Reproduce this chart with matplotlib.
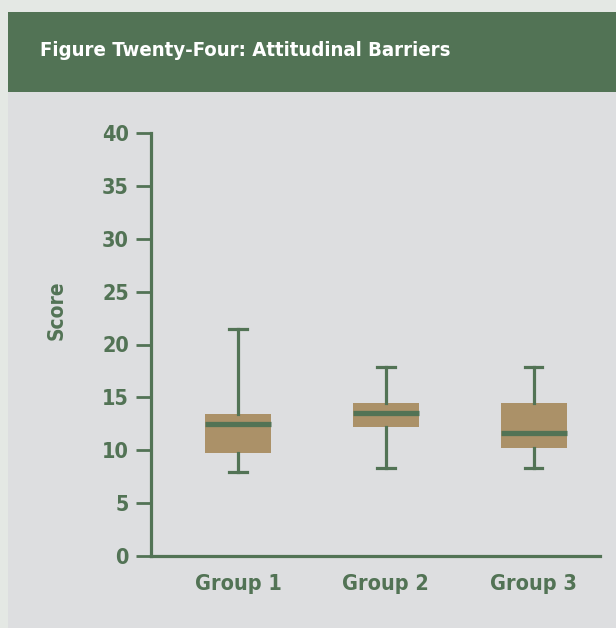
import matplotlib
matplotlib.use('Agg')
import matplotlib.pyplot as plt
from matplotlib.patches import Rectangle

# 数据
groups = ['Group 1', 'Group 2', 'Group 3']
whislo = [7.95, 8.35, 8.35]
q1 = [9.7, 12.2, 10.25]
med = [12.45, 13.5, 11.6]
q3 = [13.4, 14.45, 14.45]
whishi = [21.5, 17.85, 17.85]
yticks = [0, 5, 10, 15, 20, 25, 30, 35, 40]

green = '#527355'
tan = '#ab9168'
panel = '#dddee0'
outer = '#e4e8e4'

plt.rcParams['font.family'] = ['DejaVu Sans']
plt.rcParams['font.stretch'] = 'condensed'
plt.rcParams['font.weight'] = 'bold'

fig = plt.figure(figsize=(6.16, 6.28), dpi=100)
fig.patch.set_facecolor(outer)
# 背景面板和标题栏
fig.patches.append(Rectangle((8 / 616, 0), 1, 1 - 12 / 628, transform=fig.transFigure,
                             facecolor=panel, edgecolor='none', zorder=-2))
fig.patches.append(Rectangle((8 / 616, 1 - 92 / 628), 1, 80 / 628, transform=fig.transFigure,
                             facecolor=green, edgecolor='none', zorder=-1))
fig.text(40 / 616, 1 - 50 / 628, 'Figure Twenty-Four: Attitudinal Barriers',
         color='white', fontsize=14.6, fontweight='bold', va='center', ha='left')

ax = fig.add_axes([151 / 616, 72 / 628, 449 / 616, 423 / 628])
ax.set_zorder(2)
ax.set_facecolor('none')

stats = []
for i in range(len(groups)):
    stats.append({'whislo': whislo[i], 'q1': q1[i], 'med': med[i], 'q3': q3[i],
                  'whishi': whishi[i], 'fliers': [], 'label': groups[i]})

ax.bxp(stats, positions=[1, 2, 3], widths=0.447, patch_artist=True, showfliers=False,
       boxprops=dict(facecolor=tan, edgecolor='none'),
       medianprops=dict(color=green, linewidth=3.8, solid_capstyle='butt'),
       whiskerprops=dict(color=green, linewidth=2.3),
       capprops=dict(color=green, linewidth=2.3),
       capwidths=0.12)

ax.set_xlim(0.41, 3.45)
ax.set_ylim(0, 40)
ax.set_yticks(yticks)
ax.tick_params(axis='y', colors=green, labelsize=15.5, length=11, width=2, pad=5)
ax.tick_params(axis='x', colors=green, labelsize=15.5, length=0, pad=13)
for lab in ax.get_yticklabels() + ax.get_xticklabels():
    lab.set_fontweight('bold')
    lab.set_color(green)

for s in ['top', 'right']:
    ax.spines[s].set_visible(False)
for s in ['left', 'bottom']:
    ax.spines[s].set_color(green)
    ax.spines[s].set_linewidth(2.3)

fig.text(57 / 616, 1 - 310 / 628, 'Score', rotation=90, color=green, fontsize=15,
         fontweight='bold', va='center', ha='center')

fig.savefig('out.png', dpi=100, facecolor=fig.get_facecolor())
